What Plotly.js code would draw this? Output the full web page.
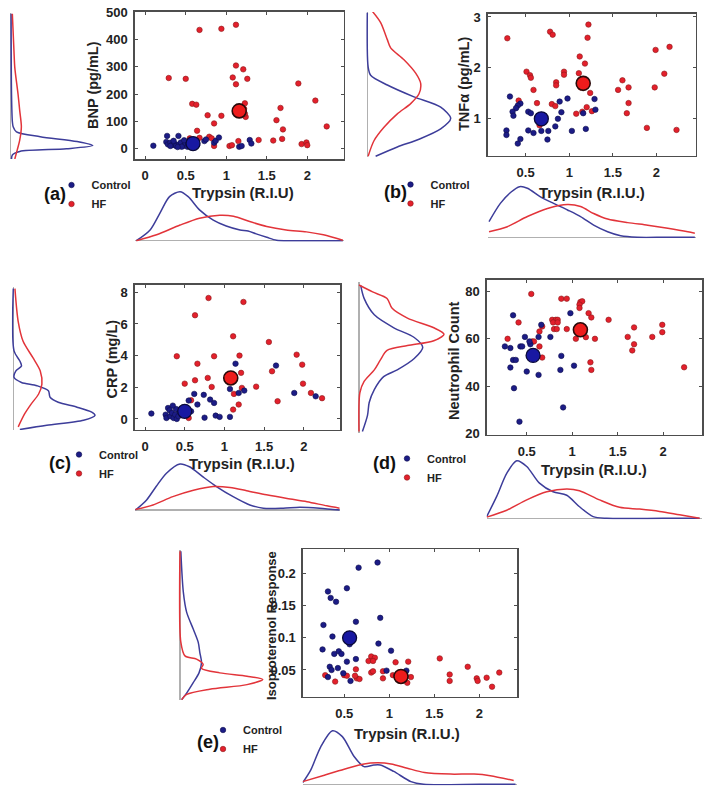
<!DOCTYPE html>
<html><head><meta charset="utf-8">
<script src="https://cdn.plot.ly/plotly-3.0.1.min.js"></script>
<style>html,body{margin:0;padding:0;background:#fff}#chart{width:708px;height:793px}</style>
</head><body><div id="chart"></div>
<script>
// ---------- Panel (a): BNP ----------
const ctrlA_x = [0.10,0.27,0.41,0.26,0.28,0.31,0.33,0.36,0.38,0.42,0.44,0.47,0.50,0.52,0.55,0.57,0.61,0.64,0.73,0.75,0.85,0.87,0.91,1.16,1.19,1.29,1.31,0.31,0.45,0.59,0.35,0.48,0.53,0.40];
const ctrlA_y = [10,46,46,24,15,21,12,18,9,15,22,9,18,6,24,12,27,12,27,33,21,28,40,6,9,31,18,9,6,9,28,30,14,5];
const hfA_x = [0.67,0.94,1.12,0.29,0.50,1.12,1.21,1.08,1.26,1.12,1.89,2.10,0.58,0.63,1.23,1.67,0.77,0.94,1.24,1.62,1.70,2.24,0.85,0.64,0.79,0.82,0.85,1.04,1.07,1.15,1.40,1.58,1.69,1.93,1.99,2.00,0.67,0.55,1.23,1.22];
const hfA_y = [436,440,455,259,256,305,291,261,256,236,239,176,164,161,166,149,122,120,116,104,70,81,92,65,43,37,9,9,12,27,31,29,35,16,22,12,39,37,128,146];
// ---------- Panel (b): TNFa ----------
const ctrlB_x = [0.32,0.44,0.41,0.39,0.35,0.36,0.28,0.28,0.44,0.41,0.53,0.56,0.53,0.59,0.68,0.76,0.75,0.84,0.87,0.91,0.89,0.98,1.03,1.19,1.16,1.29,1.30];
const ctrlB_y = [1.43,1.29,1.25,1.20,1.13,1.05,0.76,0.67,0.59,0.50,1.13,1.10,0.76,0.71,0.75,0.75,0.58,0.84,0.99,1.12,1.33,1.39,0.75,0.79,1.10,1.38,1.17];
const hfB_x = [0.29,0.78,0.81,1.22,1.21,1.12,1.18,0.51,0.55,0.56,0.94,0.94,1.11,0.85,0.85,0.59,1.24,0.63,0.42,0.80,0.84,1.08,1.15,1.20,1.26,1.13,1.17,2.15,1.99,2.09,1.98,1.61,1.56,1.68,1.68,1.66,1.89,2.23,0.66];
const hfB_y = [2.58,2.71,2.65,2.85,2.59,2.22,2.08,1.92,1.85,1.80,1.92,1.86,1.89,1.71,1.65,1.56,1.50,1.30,1.35,1.28,1.24,1.09,1.13,1.22,1.14,1.61,1.67,2.41,2.35,1.88,1.61,1.75,1.56,1.61,1.30,1.10,0.81,0.77,0.86];
// ---------- Panel (c): CRP ----------
const ctrlC_x = [0.08,0.29,0.31,0.26,0.27,0.32,0.34,0.36,0.38,0.40,0.42,0.43,0.45,0.47,0.50,0.52,0.54,0.58,0.39,0.35,0.55,0.62,0.66,0.74,0.82,0.87,0.75,0.89,0.94,1.07,1.07,1.14,1.18,1.25,1.65,1.88,2.15];
const ctrlC_y = [0.34,0.69,0.55,0.27,0.06,0.17,0.38,0.06,0.27,0.00,0.17,0.48,0.63,0.38,0.48,0.27,0.55,0.48,0.63,0.84,1.16,1.58,0.91,1.52,1.22,1.01,0.08,0.21,0.13,0.13,1.89,3.49,1.64,1.79,3.37,1.64,1.43];
const hfC_x = [0.80,1.24,0.63,1.11,1.56,0.40,0.87,1.19,1.91,0.66,1.21,1.60,1.98,0.79,0.63,0.50,0.84,1.22,1.12,1.40,1.99,2.09,2.23,1.67,1.18,1.11,0.58,0.55];
const hfC_y = [7.64,7.39,6.55,5.22,4.86,3.96,3.96,4.00,4.06,3.49,2.91,3.01,3.43,2.59,2.44,2.23,2.02,1.96,1.58,2.04,2.23,1.64,1.31,1.12,0.91,0.59,1.18,0.06];
// ---------- Panel (d): Neutrophil ----------
const ctrlD_x = [0.35,0.98,0.66,0.63,0.76,0.48,0.26,0.32,0.43,0.45,0.54,0.35,0.38,0.32,0.50,0.63,0.88,0.87,1.02,0.36,0.90,0.42,0.53];
const ctrlD_y = [69.9,70.8,65.9,60.8,60.8,60.8,56.8,56.1,56.8,56.8,57.7,51.1,51.1,47.9,46.2,44.8,52.8,46.9,48.7,39.2,31.1,25.1,58.9];
const hfD_x = [0.55,0.88,0.94,1.09,1.11,1.08,1.18,1.21,1.40,0.41,0.78,0.82,0.84,0.79,0.84,0.80,0.83,0.94,0.67,0.64,1.04,1.15,1.25,0.29,0.54,0.56,0.58,0.64,0.67,1.20,1.21,1.61,1.68,1.68,1.66,1.88,1.99,1.99,2.23,1.08];
const hfD_y = [78.9,76.9,76.9,75.5,75.8,74.4,70.8,69.0,68.0,66.9,68.0,68.0,68.0,66.9,66.9,64.1,64.1,64.1,65.2,63.1,60.0,60.7,60.0,60.0,58.5,58.9,58.9,56.8,52.1,50.1,46.9,60.8,64.8,57.7,55.1,60.8,65.9,62.8,48.0,73.0];
// ---------- Panel (e): Isoproterenol ----------
const ctrlE_x = [0.87,0.66,0.32,0.53,0.35,0.41,0.90,0.63,0.27,0.37,0.88,0.26,0.39,0.44,0.47,1.02,0.53,0.63,0.34,0.36,0.43,0.32,0.49,0.57,0.97,1.19,0.56];
const ctrlE_y = [0.217,0.209,0.172,0.177,0.162,0.156,0.131,0.125,0.120,0.102,0.091,0.082,0.075,0.079,0.075,0.080,0.063,0.067,0.055,0.050,0.053,0.039,0.045,0.033,0.049,0.049,0.090];
const hfE_x = [0.80,0.84,0.77,0.82,1.56,1.07,1.21,1.87,2.22,0.29,0.40,0.50,0.53,0.63,0.64,0.67,0.62,0.80,0.82,0.93,0.93,1.04,1.12,1.20,1.24,1.67,1.67,1.97,1.98,2.08,2.14];
const hfE_y = [0.071,0.069,0.064,0.064,0.068,0.062,0.063,0.055,0.046,0.042,0.032,0.042,0.041,0.051,0.037,0.036,0.041,0.046,0.048,0.048,0.037,0.042,0.042,0.030,0.039,0.043,0.033,0.037,0.033,0.038,0.024];
// ---------- group means (a..e) ----------
const ctrlMean_x = [0.59, 0.68, 0.50, 0.57, 0.56];
const ctrlMean_y = [18, 0.99, 0.48, 53.0, 0.100];
const hfMean_x = [1.16, 1.16, 1.08, 1.09, 1.13];
const hfMean_y = [138, 1.69, 2.59, 63.8, 0.040];
// ---------- marginal densities (relative height) ----------
// bottom (over Trypsin)
const botA_ctrl_x = [-0.11,0.06,0.18,0.30,0.43,0.53,0.67,0.84,1.0,1.17,1.27,1.37,1.5,1.62,1.8,2.1,2.44];
const botA_ctrl_h = [0,0.22,0.56,0.90,1.0,0.90,0.63,0.42,0.30,0.22,0.20,0.14,0.07,0.01,0,0,0];
const botA_hf_x = [-0.11,0.14,0.43,0.67,0.92,1.09,1.29,1.5,1.74,1.99,2.2,2.44];
const botA_hf_h = [0.0,0.12,0.32,0.46,0.52,0.50,0.39,0.29,0.22,0.18,0.12,0.01];
const botB_ctrl_x = [0.08,0.21,0.33,0.43,0.52,0.67,0.82,0.98,1.13,1.28,1.44,1.59,1.78,2.1,2.44];
const botB_ctrl_h = [0.31,0.67,0.89,1.0,0.97,0.80,0.67,0.54,0.41,0.24,0.11,0.03,0,0,0];
const botB_hf_x = [0.08,0.29,0.52,0.75,0.98,1.13,1.28,1.44,1.67,1.90,2.13,2.36,2.44];
const botB_hf_h = [0.11,0.21,0.41,0.57,0.65,0.61,0.47,0.36,0.29,0.24,0.18,0.11,0.08];
const botC_ctrl_x = [-0.12,0.02,0.14,0.27,0.44,0.56,0.73,0.9,1.11,1.32,1.49,1.74,1.95,2.2,2.45];
const botC_ctrl_h = [0,0.22,0.51,0.80,1.0,0.94,0.72,0.51,0.29,0.11,0.04,0.04,0.06,0.04,0];
const botC_hf_x = [-0.12,0.10,0.35,0.61,0.86,1.07,1.28,1.53,1.79,2.04,2.29,2.45];
const botC_hf_h = [0.01,0.11,0.29,0.43,0.51,0.49,0.42,0.33,0.25,0.18,0.09,0.04];
const botD_ctrl_x = [0.06,0.17,0.28,0.39,0.50,0.64,0.79,0.94,1.08,1.23,1.38,2.0,2.4];
const botD_ctrl_h = [0.03,0.38,0.78,1.0,0.90,0.61,0.46,0.40,0.20,0.03,0,0,0];
const botD_hf_x = [0.06,0.28,0.50,0.72,0.94,1.08,1.30,1.52,1.74,1.96,2.18,2.4];
const botD_hf_h = [0.02,0.14,0.32,0.46,0.51,0.48,0.32,0.19,0.16,0.12,0.06,0];
const botE_ctrl_x = [0.04,0.13,0.24,0.37,0.48,0.61,0.72,0.83,0.90,1.05,1.24,1.38,2.0,2.4];
const botE_ctrl_h = [0.03,0.27,0.70,1.0,0.89,0.52,0.33,0.36,0.36,0.24,0.05,0,0,0];
const botE_hf_x = [0.04,0.28,0.50,0.72,0.87,1.02,1.20,1.39,1.68,1.94,2.12,2.38];
const botE_hf_h = [0.05,0.17,0.28,0.38,0.40,0.38,0.30,0.22,0.19,0.19,0.16,0.07];
// left (over the y measure)
const leftA_ctrl_y = [500,200,100,80,61,43,25,10,-2,-12,-25,-40];
const leftA_ctrl_h = [0.005,0.01,0.02,0.03,0.07,0.36,0.81,1.0,0.68,0.11,0.02,0.01];
const leftA_hf_y = [500,360,300,200,140,80,30,-6,-40];
const leftA_hf_h = [0.02,0.04,0.05,0.09,0.11,0.13,0.11,0.08,0.05];
const leftB_ctrl_y = [3.05,2.0,1.84,1.65,1.42,1.22,1.0,0.8,0.6,0.45,0.27];
const leftB_ctrl_h = [0,0.01,0.04,0.24,0.56,0.88,1.0,0.88,0.62,0.36,0.10];
const leftB_hf_y = [3.08,2.86,2.53,2.37,2.14,1.88,1.68,1.48,1.29,1.09,0.83,0.57,0.27];
const leftB_hf_h = [0.06,0.16,0.24,0.28,0.44,0.58,0.64,0.62,0.52,0.36,0.20,0.08,0.01];
const leftC_ctrl_y = [8.36,4.36,3.73,3.41,3.09,2.67,2.36,2.15,1.83,1.41,1.09,0.78,0.46,0.25,-0.06,-0.38,-0.65];
const leftC_ctrl_h = [0,0.01,0.08,0.10,0.03,0.01,0.10,0.29,0.43,0.45,0.55,0.78,0.96,1.0,0.86,0.41,0.08];
const leftC_hf_y = [8.36,6.25,4.99,3.94,3.09,2.25,1.62,0.99,0.36,-0.48];
const leftC_hf_h = [0.02,0.06,0.12,0.24,0.33,0.35,0.31,0.22,0.14,0.06];
const leftD_ctrl_y = [83.4,77.8,70.7,65.1,60.9,56.7,51.8,46.9,44.0,38.4,32.8,27.2,20.2];
const leftD_ctrl_h = [0.02,0.06,0.18,0.41,0.65,0.75,0.65,0.45,0.29,0.18,0.12,0.10,0.04];
const leftD_hf_y = [83.6,80.6,77.8,73.5,69.3,65.1,62.3,59.5,57.4,55.3,51.1,46.9,41.9,37.0,20.2];
const leftD_hf_h = [0,0.16,0.33,0.39,0.57,0.88,1.0,0.88,0.57,0.33,0.25,0.18,0.06,0.01,0];
const leftE_ctrl_y = [0.236,0.174,0.143,0.117,0.097,0.081,0.066,0.050,0.035,0.019,0.009];
const leftE_ctrl_h = [0.01,0.04,0.08,0.16,0.22,0.24,0.26,0.23,0.16,0.08,0.02];
const leftE_hf_y = [0.236,0.097,0.076,0.071,0.063,0.057,0.050,0.045,0.040,0.032,0.025,0.017,0.009];
const leftE_hf_h = [0,0.01,0.06,0.20,0.28,0.26,0.48,0.81,1.0,0.81,0.36,0.08,0.02];
// ---------- text ----------
const panelLabels = ['(a)','(b)','(c)','(d)','(e)'];
const yTitles = ['BNP (pg/mL)','TNFα (pg/mL)','CRP (mg/L)','Neutrophil Count','Isoproterenol Response'];
const xTitles = ['Trypsin (R.I.U)','Trypsin (R.I.U.)','Trypsin (R.I.U.)','Trypsin (R.I.U.)','Trypsin (R.I.U.)'];
const groupNames = ['Control','HF'];

// ---------- layout geometry (pixels) ----------
const W = 708, H = 793;
const fx = p => p / W;
const fy = p => 1 - p / H;
const geo = [
  {sc:[134.7,343.7,11.7,159.3], xr:[-0.13,2.45], yr:[-40,503], ydt:100, left:[10.7,92.7,13,159], bot:[240.7,191.7],
   lab:[55,194], leg:[70.5,85,186,201], yt:[93,85,14.5], xt:[243,193]},
  {sc:[487.7,695.7,13.7,156], xr:[0.065,2.45], yr:[0.255,3.065], ydt:1, left:[367.3,450.7,12,157], bot:[237.3,186.7],
   lab:[395,192], leg:[409.5,423,184,202], yt:[464,84,14.5], xt:[592,193]},
  {sc:[134.7,340.3,284.7,429.7], xr:[-0.13,2.46], yr:[-0.68,8.48], ydt:2, left:[13.3,95,286.7,430], bot:[510,464],
   lab:[60,463], leg:[78,92.7,456,470], yt:[111.5,359,14.5], xt:[242,464]},
  {sc:[486.7,702.3,279.7,434.7], xr:[0.06,2.43], yr:[19.6,84.9], ydt:20, left:[359,444,282,433], bot:[518.3,460.7],
   lab:[384,463], leg:[406,419,458,476], yt:[454,361,14.5], xt:[594,470]},
  {sc:[302.7,517.3,549,696.7], xr:[0.04,2.42], yr:[0.0085,0.238], ydt:0.05, left:[180,262.7,550,700], bot:[784.3,730.7],
   lab:[208,742], leg:[222,238,730,747], yt:[271,626,13], xt:[407,733]}
];
const scat = [[ctrlA_x,ctrlA_y,hfA_x,hfA_y],[ctrlB_x,ctrlB_y,hfB_x,hfB_y],[ctrlC_x,ctrlC_y,hfC_x,hfC_y],[ctrlD_x,ctrlD_y,hfD_x,hfD_y],[ctrlE_x,ctrlE_y,hfE_x,hfE_y]];
const bots = [[botA_ctrl_x,botA_ctrl_h,botA_hf_x,botA_hf_h],[botB_ctrl_x,botB_ctrl_h,botB_hf_x,botB_hf_h],[botC_ctrl_x,botC_ctrl_h,botC_hf_x,botC_hf_h],[botD_ctrl_x,botD_ctrl_h,botD_hf_x,botD_hf_h],[botE_ctrl_x,botE_ctrl_h,botE_hf_x,botE_hf_h]];
const lefts = [[leftA_ctrl_y,leftA_ctrl_h,leftA_hf_y,leftA_hf_h],[leftB_ctrl_y,leftB_ctrl_h,leftB_hf_y,leftB_hf_h],[leftC_ctrl_y,leftC_ctrl_h,leftC_hf_y,leftC_hf_h],[leftD_ctrl_y,leftD_ctrl_h,leftD_hf_y,leftD_hf_h],[leftE_ctrl_y,leftE_ctrl_h,leftE_hf_y,leftE_hf_h]];

const FONT = 'Liberation Sans, Arial, sans-serif';
const CTRL = '#1c1c86', CTRL_EDGE = '#0d0d4d', HF = '#e3202c', HF_EDGE = '#8c1a1a';
const CTRL_LINE = '#3d3d9a', HF_LINE = '#e2343a', AXC = '#4d4d4d';

const traces = [];
const layout = {
  width: W, height: H, margin:{l:0,r:0,t:0,b:0},
  paper_bgcolor:'#fff', plot_bgcolor:'rgba(0,0,0,0)',
  font:{family:FONT, color:'#222'},
  annotations: []
};
const nm = k => (k === 1 ? '' : String(k));

geo.forEach((g, i) => {
  const s = 3*i + 1, l = 3*i + 2, b = 3*i + 3;
  const legName = 'legend' + (i === 0 ? '' : String(i + 1));
  // scatter axes
  layout['xaxis' + nm(s)] = {
    domain:[fx(g.sc[0]), fx(g.sc[1])], range:g.xr, anchor:'y' + nm(s), dtick:0.5, tick0:0,
    showline:true, mirror:'ticks', linecolor:AXC, linewidth:1.3, ticks:'inside', ticklen:3, tickcolor:AXC,
    showgrid:false, zeroline:false, ticklabelstandoff:4,
    tickfont:{family:FONT, size:13, weight:'bold', color:'#222'}
  };
  layout['yaxis' + nm(s)] = {
    domain:[fy(g.sc[3]), fy(g.sc[2])], range:g.yr, anchor:'x' + nm(s), dtick:g.ydt, tick0:0,
    showline:true, mirror:'ticks', linecolor:AXC, linewidth:1.3, ticks:'inside', ticklen:3, tickcolor:AXC,
    showgrid:false, zeroline:false, ticklabelstandoff:3,
    tickfont:{family:FONT, size:13, weight:'bold', color:'#222'}
  };
  // left density axes
  const lu = g.left[1] - g.left[0];
  layout['xaxis' + nm(l)] = {
    domain:[fx(g.left[0] - 0.02*lu), fx(g.left[0] + 1.04*lu)], range:[-0.02,1.04], anchor:'y' + nm(l),
    visible:true, showticklabels:false, ticks:'', showgrid:false, showline:false,
    zeroline:true, zerolinecolor:'#b0b0b0', zerolinewidth:1.2
  };
  layout['yaxis' + nm(l)] = {
    domain:[fy(g.left[3]), fy(g.left[2])], range:g.yr, anchor:'x' + nm(l),
    showticklabels:false, ticks:'', showgrid:false, showline:false, zeroline:false
  };
  // bottom density axes
  const bu = g.bot[0] - g.bot[1];
  layout['xaxis' + nm(b)] = {
    domain:[fx(g.sc[0]), fx(g.sc[1])], range:g.xr, anchor:'y' + nm(b),
    showticklabels:false, ticks:'', showgrid:false, showline:false, zeroline:false
  };
  layout['yaxis' + nm(b)] = {
    domain:[fy(g.bot[0] + 0.02*bu), fy(g.bot[0] - 1.04*bu)], range:[-0.02,1.04], anchor:'x' + nm(b),
    showticklabels:false, ticks:'', showgrid:false, showline:false,
    zeroline:true, zerolinecolor:'#b0b0b0', zerolinewidth:1.2
  };
  // scatter traces
  const d = scat[i];
  traces.push({type:'scatter', mode:'markers', x:d[2], y:d[3], xaxis:'x'+nm(s), yaxis:'y'+nm(s),
    name:groupNames[1], legend:legName, legendrank:2,
    marker:{color:HF, size:5.5, line:{color:HF_EDGE, width:0.6}}});
  traces.push({type:'scatter', mode:'markers', x:d[0], y:d[1], xaxis:'x'+nm(s), yaxis:'y'+nm(s),
    name:groupNames[0], legend:legName, legendrank:1,
    marker:{color:CTRL, size:5.5, line:{color:CTRL_EDGE, width:0.6}}});
  traces.push({type:'scatter', mode:'markers', x:[ctrlMean_x[i]], y:[ctrlMean_y[i]], xaxis:'x'+nm(s), yaxis:'y'+nm(s),
    showlegend:false, marker:{color:'#1818a2', size:14, line:{color:'#0a0a3a', width:1.3}}});
  traces.push({type:'scatter', mode:'markers', x:[hfMean_x[i]], y:[hfMean_y[i]], xaxis:'x'+nm(s), yaxis:'y'+nm(s),
    showlegend:false, marker:{color:'#ee1c1c', size:14, line:{color:'#2a0a0a', width:1.6}}});
  // left densities
  const L = lefts[i];
  traces.push({type:'scatter', mode:'lines', x:L[1], y:L[0], xaxis:'x'+nm(l), yaxis:'y'+nm(l), showlegend:false,
    line:{color:CTRL_LINE, width:1.5, shape:'spline', smoothing:0.8}});
  traces.push({type:'scatter', mode:'lines', x:L[3], y:L[2], xaxis:'x'+nm(l), yaxis:'y'+nm(l), showlegend:false,
    line:{color:HF_LINE, width:1.5, shape:'spline', smoothing:0.8}});
  // bottom densities
  const B = bots[i];
  traces.push({type:'scatter', mode:'lines', x:B[0], y:B[1], xaxis:'x'+nm(b), yaxis:'y'+nm(b), showlegend:false,
    line:{color:CTRL_LINE, width:1.5, shape:'spline', smoothing:0.8}});
  traces.push({type:'scatter', mode:'lines', x:B[2], y:B[3], xaxis:'x'+nm(b), yaxis:'y'+nm(b), showlegend:false,
    line:{color:HF_LINE, width:1.5, shape:'spline', smoothing:0.8}});
  // legend
  const legLeft = g.leg[0] - 19;
  const legTop = (g.leg[2] + g.leg[3]) / 2 - 23;
  layout[legName] = {x:fx(legLeft), y:fy(legTop), xanchor:'left', yanchor:'top',
    bgcolor:'rgba(0,0,0,0)', borderwidth:0, traceorder:'normal',
    font:{family:FONT, size:11, weight:'bold', color:'#222'}, itemclick:false, itemdoubleclick:false};
  // panel label & axis titles
  layout.annotations.push({xref:'paper', yref:'paper', x:fx(g.lab[0]), y:fy(g.lab[1]), text:panelLabels[i],
    showarrow:false, xanchor:'center', yanchor:'middle', font:{family:FONT, size:18, weight:'bold', color:'#111'}});
  layout.annotations.push({xref:'paper', yref:'paper', x:fx(g.yt[0]), y:fy(g.yt[1]), text:yTitles[i], textangle:-90,
    showarrow:false, xanchor:'center', yanchor:'middle', font:{family:FONT, size:g.yt[2], weight:'bold', color:'#222'}});
  layout.annotations.push({xref:'paper', yref:'paper', x:fx(g.xt[0]), y:fy(g.xt[1]), text:xTitles[i],
    showarrow:false, xanchor:'center', yanchor:'middle', font:{family:FONT, size:15, weight:'bold', color:'#222'}});
});

Plotly.newPlot('chart', traces, layout, {staticPlot:true, displayModeBar:false});
</script></body></html>
